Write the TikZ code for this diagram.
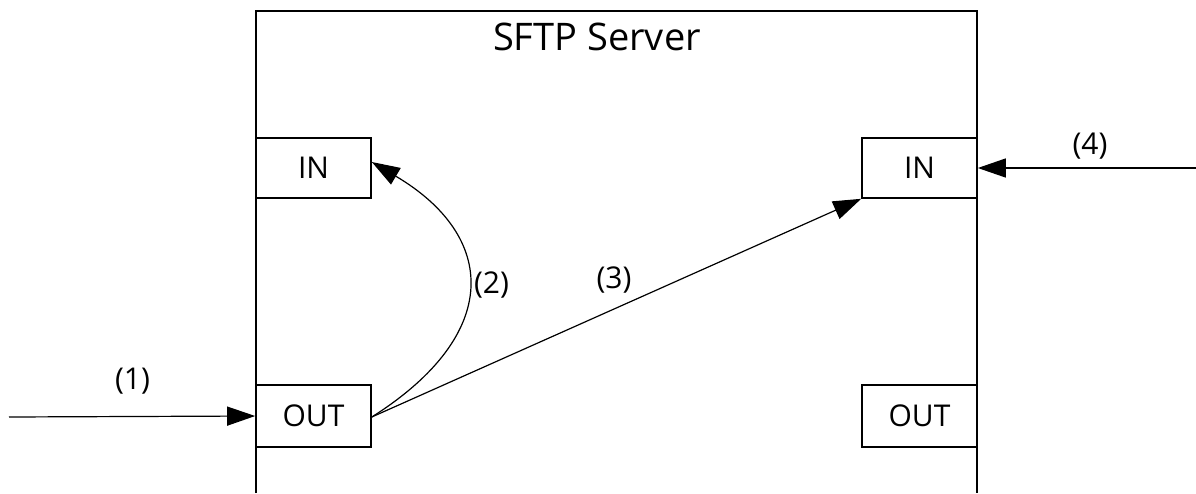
\documentclass[tikz,border=0pt]{standalone}
\usepackage{fontspec}
\setmainfont{Open Sans}
\usetikzlibrary{arrows.meta}
\begin{document}
\begin{tikzpicture}[x=1pt,y=-1pt,
  port/.style={draw,line width=1.6pt,minimum width=115pt,minimum height=60pt,inner sep=0pt,
    font=\fontsize{30}{36}\selectfont},
  lbl/.style={inner sep=0pt,font=\fontsize{30}{36}\selectfont},
  flow/.style={line width=1.2pt,-{Triangle[length=28pt,width=19pt]}}]
\useasboundingbox (0,0) rectangle (1196,493);
% server frame (open at the bottom)
\draw[line width=2pt] (256,493) -- (256,11) -- (977,11) -- (977,493);
\node[lbl,font=\fontsize{38}{44}\selectfont] (title) at (597,36.5) {SFTP Server};
% ports
\node[port] (lin) at (313.5,168) {IN};
\node[port,minimum height=62pt] (lout) at (313.5,416) {OUT};
\node[port] (rin) at (919.5,168) {IN};
\node[port,minimum height=62pt] (rout) at (919.5,416) {OUT};
% connectors
\coordinate (src1) at (9,417);
\coordinate (src4) at (1196,168);
\draw[flow] (src1) -- (lout.west);
\draw[flow] (src4) -- (rin.east);
\draw[flow] ([yshift=-1pt]lout.east) .. controls (503,334) and (497,236) .. ([yshift=6pt]lin.east);
\draw[flow] ([yshift=-1pt]lout.east) -- (rin.south west);
% labels
\node[lbl] (l1) at (132.5,381.5) {(1)};
\node[lbl] (l2) at (491.5,285) {(2)};
\node[lbl] (l3) at (614,280) {(3)};
\node[lbl] (l4) at (1090,146) {(4)};
\end{tikzpicture}
\end{document}
